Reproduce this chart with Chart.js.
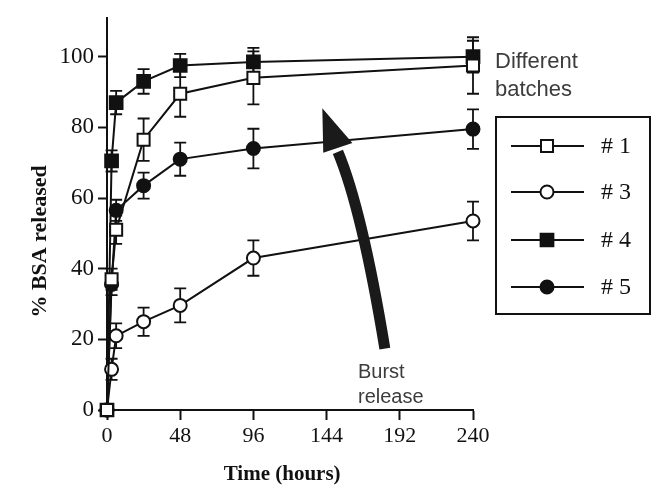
<!DOCTYPE html>
<html>
<head>
  <title>BSA release</title>
  <style>
    body { margin: 0; background: #fff; }
    #wrap { width: 668px; height: 492px; }
  </style>
  <script src="https://cdn.jsdelivr.net/npm/chart.js"></script>
</head>
<body>
  <div id="wrap"><canvas id="chart"></canvas></div>
  <script>
    // data
    const hours = [0, 3, 6, 24, 48, 96, 240];
    const batch1 = [0, 37, 51, 76.5, 89.5, 94, 97.5];
    const batch3 = [0, 11.5, 21, 25, 29.6, 43, 53.5];
    const batch4 = [0, 70.5, 87, 93, 97.5, 98.5, 100];
    const batch5 = [0, 35.5, 56.5, 63.5, 71, 74, 79.5];
    const err1 = [0, 3, 4, 6, 6.5, 7.5, 8];
    const err3 = [0, 3, 3.5, 4, 4.8, 5, 5.5];
    const err4 = [0, 3, 3.3, 3.5, 3.3, 4, 4.5];
    const err5 = [0, 3, 3, 3.7, 4.7, 5.6, 5.6];
    const batchLabels = ['# 1', '# 3', '# 4', '# 5'];
    const xTicks = [0, 48, 96, 144, 192, 240];
    const yTicks = [0, 20, 40, 60, 80, 100];

    // arrow path in data units (hours, %)
    const arrowStart = [182.2, 17.4];
    const arrowCtrl = [167.2, 56.8];
    const arrowEnd = [151.4, 74.2];
    const arrowTip = [141.2, 85.4];
    const arrowWingL = [141.8, 72.8];
    const arrowWingR = [160.9, 75.6];

    const ink = '#111';
    const serif = "'Liberation Serif', 'DejaVu Serif', serif";
    const sans = "'Liberation Sans', Arial, sans-serif";

    function pts(vals) {
      return hours.map((h, i) => ({ x: h, y: vals[i] }));
    }

    function series(label, vals, errs, style, filled, radius) {
      return {
        label: label,
        data: pts(vals),
        errors: errs,
        borderColor: ink,
        borderWidth: 2,
        pointStyle: style,
        pointRadius: radius,
        pointHoverRadius: radius,
        pointBorderWidth: 2,
        pointBorderColor: ink,
        pointBackgroundColor: filled ? ink : '#fff',
        tension: 0,
        fill: false,
        clip: false
      };
    }

    const errorBars = {
      id: 'errorBars',
      beforeDatasetsDraw(chart) {
        const ctx = chart.ctx;
        const ys = chart.scales.y;
        ctx.save();
        ctx.strokeStyle = ink;
        ctx.lineWidth = 1.8;
        chart.data.datasets.forEach((ds, di) => {
          const meta = chart.getDatasetMeta(di);
          ds.data.forEach((p, i) => {
            const e = ds.errors[i];
            if (!e) return;
            const x = meta.data[i].x;
            const y1 = ys.getPixelForValue(p.y + e);
            const y2 = ys.getPixelForValue(p.y - e);
            ctx.beginPath();
            ctx.moveTo(x, y1); ctx.lineTo(x, y2);
            ctx.moveTo(x - 6, y1); ctx.lineTo(x + 6, y1);
            ctx.moveTo(x - 6, y2); ctx.lineTo(x + 6, y2);
            ctx.stroke();
          });
        });
        ctx.restore();
      }
    };

    const extras = {
      id: 'extras',
      afterDraw(chart) {
        const ctx = chart.ctx;
        const xs = chart.scales.x, ys = chart.scales.y;
        const P = (d) => [xs.getPixelForValue(d[0]), ys.getPixelForValue(d[1])];
        ctx.save();

        // burst release arrow
        const s = P(arrowStart), c = P(arrowCtrl), e = P(arrowEnd);
        ctx.strokeStyle = '#1a1a1a';
        ctx.fillStyle = '#1a1a1a';
        ctx.lineWidth = 11;
        ctx.beginPath();
        ctx.moveTo(s[0], s[1]);
        ctx.quadraticCurveTo(c[0], c[1], e[0], e[1] + 4);
        ctx.stroke();
        const t = P(arrowTip), wl = P(arrowWingL), wr = P(arrowWingR);
        ctx.beginPath();
        ctx.moveTo(t[0], t[1]);
        ctx.lineTo(wl[0], wl[1]);
        ctx.lineTo(wr[0], wr[1]);
        ctx.closePath();
        ctx.fill();

        // notes
        ctx.fillStyle = '#3c3c3c';
        ctx.textBaseline = 'middle';
        ctx.textAlign = 'left';
        ctx.font = '22px ' + sans;
        ctx.fillText('Different', 495, 62);
        ctx.fillText('batches', 495, 90);
        ctx.font = '20px ' + sans;
        ctx.fillText('Burst', 358, 372);
        ctx.fillText('release', 358, 397);

        // boxed legend
        ctx.strokeStyle = ink;
        ctx.lineWidth = 2;
        ctx.strokeRect(496, 117, 154, 197);
        const rowY = [146, 192, 240, 287];
        chart.data.datasets.forEach((ds, i) => {
          const y = rowY[i];
          ctx.strokeStyle = ink;
          ctx.lineWidth = 2;
          ctx.beginPath();
          ctx.moveTo(511, y); ctx.lineTo(584, y);
          ctx.stroke();
          ctx.fillStyle = ds.pointBackgroundColor;
          Chart.helpers.drawPoint(ctx, {
            pointStyle: ds.pointStyle, radius: ds.pointRadius,
            rotation: 0, borderWidth: 2
          }, 547, y);
          ctx.fillStyle = ink;
          ctx.font = '24px ' + serif;
          ctx.textAlign = 'left';
          ctx.fillText(batchLabels[i], 601, y + 1);
        });
        ctx.restore();
      }
    };

    new Chart(document.getElementById('chart'), {
      type: 'line',
      data: {
        datasets: [
          series(batchLabels[0], batch1, err1, 'rect', false, 8.5),
          series(batchLabels[1], batch3, err3, 'circle', false, 6.5),
          series(batchLabels[2], batch4, err4, 'rect', true, 9),
          series(batchLabels[3], batch5, err5, 'circle', true, 6.5)
        ]
      },
      options: {
        responsive: true,
        maintainAspectRatio: false,
        animation: false,
        layout: { padding: { left: 0, top: 14, right: 195, bottom: 0 } },
        plugins: { legend: { display: false }, tooltip: { enabled: false } },
        scales: {
          x: {
            type: 'linear',
            min: 0, max: 240,
            afterBuildTicks: s => { s.ticks = xTicks.map(v => ({ value: v })); },
            afterFit: s => { s.height = 82; },
            ticks: { color: ink, font: { family: serif, size: 22 }, padding: 3, maxRotation: 0 },
            grid: { drawOnChartArea: false, tickLength: 10, tickWidth: 2, tickColor: ink },
            border: { display: true, color: ink, width: 2 },
            title: {
              display: true, text: 'Time (hours)   ', color: ink,
              font: { family: serif, size: 21, weight: 'bold' },
              padding: { top: 0, bottom: 5 }
            }
          },
          y: {
            min: 0, max: 111,
            afterBuildTicks: s => { s.ticks = yTicks.map(v => ({ value: v })); },
            afterFit: s => { s.width = 107; },
            ticks: { color: ink, font: { family: serif, size: 23 }, padding: 4 },
            grid: { drawOnChartArea: false, tickLength: 9, tickWidth: 2, tickColor: ink },
            border: { display: true, color: ink, width: 2 },
            title: {
              display: true, text: '% BSA released          ', color: ink,
              font: { family: serif, size: 22, weight: 'bold' },
              padding: { top: 27, bottom: 0 }
            }
          }
        }
      },
      plugins: [errorBars, extras]
    });
  </script>
</body>
</html>
